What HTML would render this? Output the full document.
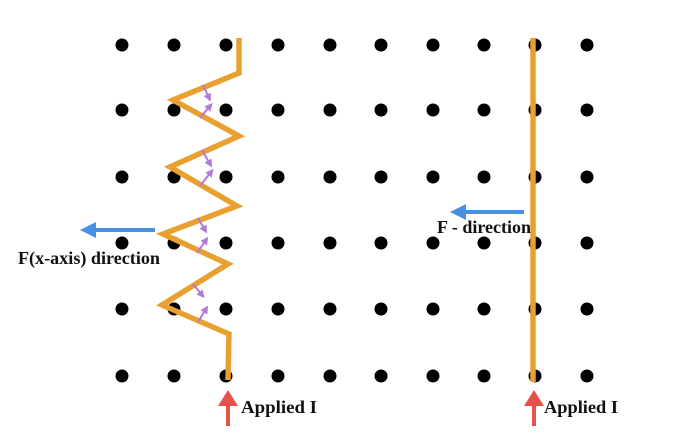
<!DOCTYPE html>
<html><head><style>body{margin:0;background:#fff}svg{display:block}text{font-family:"Liberation Serif",serif;font-weight:bold;font-size:18px;fill:#111}</style></head>
<body>
<svg width="700" height="438" viewBox="0 0 700 438">
<defs>
<marker id="b" markerWidth="4" markerHeight="4" refX="2" refY="2" orient="auto" markerUnits="strokeWidth"><path d="M0,0L4,2L0,4Z" fill="#4a90e2"/></marker>
<marker id="r" markerWidth="4" markerHeight="5" refX="1" refY="2.5" orient="auto" markerUnits="strokeWidth"><path d="M0,0L4,2.5L0,5Z" fill="#e8504a"/></marker>
<marker id="p" markerWidth="4" markerHeight="4" refX="2" refY="2" orient="auto" markerUnits="strokeWidth"><path d="M0,0L4,2L0,4Z" fill="#b07ad8"/></marker>
</defs>
<g fill="#000">
<g id="row">
<circle cx="122" cy="45" r="6.5"/><circle cx="174" cy="45" r="6.5"/><circle cx="226" cy="45" r="6.5"/><circle cx="278" cy="45" r="6.5"/><circle cx="330" cy="45" r="6.5"/><circle cx="381" cy="45" r="6.5"/><circle cx="433" cy="45" r="6.5"/><circle cx="484" cy="45" r="6.5"/><circle cx="535" cy="45" r="6.5"/><circle cx="587" cy="45" r="6.5"/>
</g>
<use href="#row" y="65"/><use href="#row" y="132"/><use href="#row" y="198"/><use href="#row" y="264"/><use href="#row" y="331"/>
</g>
<polyline points="239,38 239,73 173,100 239,136 170,167 237,206 163,234 228,264 162,305 229,334 228,380" fill="none" stroke="#e8a030" stroke-width="5.5" stroke-linejoin="miter"/>
<line x1="533" y1="38" x2="533" y2="382" stroke="#e8a030" stroke-width="5.5"/>
<g stroke="#b07ad8" stroke-width="2" fill="none">
<line x1="203" y1="85" x2="209" y2="98" marker-end="url(#p)"/><line x1="200" y1="118" x2="210" y2="106" marker-end="url(#p)"/>
<line x1="202" y1="150" x2="210" y2="164" marker-end="url(#p)"/><line x1="200" y1="186" x2="211" y2="172" marker-end="url(#p)"/>
<line x1="198" y1="218" x2="205" y2="230" marker-end="url(#p)"/><line x1="197" y1="253" x2="206" y2="240" marker-end="url(#p)"/>
<line x1="193" y1="284" x2="202" y2="295" marker-end="url(#p)"/><line x1="198" y1="322" x2="206" y2="309" marker-end="url(#p)"/>
</g>
<line x1="155" y1="230" x2="88" y2="230" stroke="#4a90e2" stroke-width="4" marker-end="url(#b)"/>
<line x1="524" y1="212" x2="458" y2="212" stroke="#4a90e2" stroke-width="4" marker-end="url(#b)"/>
<line x1="228" y1="426" x2="228" y2="402" stroke="#e8504a" stroke-width="4" marker-end="url(#r)"/>
<line x1="534" y1="426" x2="534" y2="402" stroke="#e8504a" stroke-width="4" marker-end="url(#r)"/>
<text x="18" y="264" textLength="142" lengthAdjust="spacingAndGlyphs">F(x-axis) direction</text>
<text x="437" y="233" textLength="94" lengthAdjust="spacingAndGlyphs">F - direction</text>
<text x="241" y="413" textLength="76" lengthAdjust="spacingAndGlyphs">Applied I</text>
<text x="544" y="413" textLength="74" lengthAdjust="spacingAndGlyphs">Applied I</text>
</svg>
</body></html>
